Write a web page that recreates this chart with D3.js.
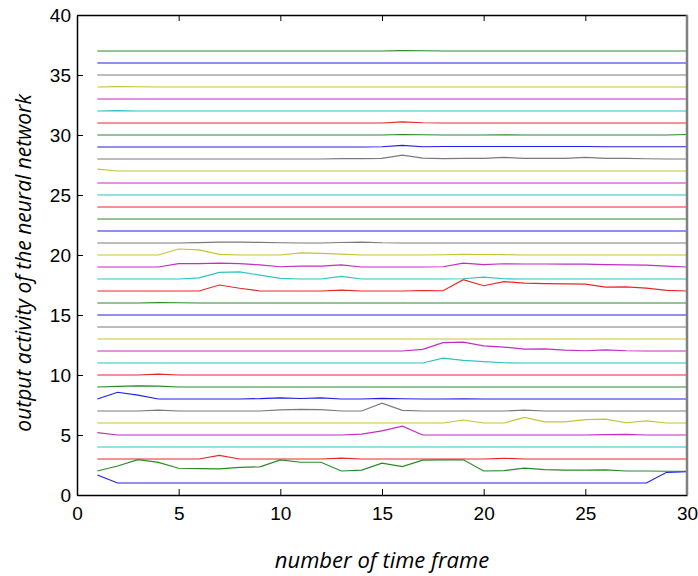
<!doctype html>
<html>
<head>
  <meta charset="utf-8">
  <script src="https://d3js.org/d3.v7.min.js"></script>
  <style>
    body { margin: 0; background: #fff; }
    .tick text { font-family: "Liberation Sans", Arial, sans-serif; font-size: 19px; fill: #000; }
    .title { font-family: "Open Sans", sans-serif; font-style: italic; font-size: 22px; fill: #000; }
  </style>
</head>
<body>
  <svg width="698" height="576"></svg>
  <script>
    // time frames 1..30
    var frames = [1,2,3,4,5,6,7,8,9,10,11,12,13,14,15,16,17,18,19,20,21,22,23,24,25,26,27,28,29,30];

    // output of each neuron, stacked by index
    var n1  = [1.67,1,1,1,1,1,1,1,1,1,1,1,1,1,1,1,1,1,1,1,1,1,1,1,1,1,1,1,1.89,1.95];
    var n2  = [2,2.42,2.95,2.72,2.23,2.2,2.18,2.3,2.35,2.92,2.73,2.73,2,2.08,2.66,2.36,2.9,2.93,2.93,2,2.03,2.24,2.12,2.08,2.08,2.1,2,2,1.98,1.98];
    var n3  = [3,3,3,3,3,3,3.3,3,3,3,3,3,3.08,3,3,3,3,3,3,3,3.06,3,3,3,3,3,3,3,3,3];
    var n4  = [4,4,4,4,4,4,4,4,4,4,4,4,4,4,4,4,4,4,4,4,4,4,4,4,4,4,4,4,4,4];
    var n5  = [5.2,5,5,5,5,5,5,5,5,5,5,5,5,5.07,5.34,5.73,5,5,5,5,5,5,5,5,5,5.03,5.06,5,5,5];
    var n6  = [6,6,6,6,6,6,6,6,6,6,6,6,6,6,6,6,6,6,6.25,6,6,6.47,6.09,6.1,6.28,6.33,6.02,6.18,6,6];
    var n7  = [7,7,7,7.08,7,7,7,7,7,7.1,7.14,7.12,7,7,7.66,7.05,7,7,7,7,7,7.07,7,7,7,7,7,7,7,7];
    var n8  = [8,8.56,8.32,8,8,8,8,8,8.03,8.1,8.04,8.1,8,8,8.05,8.02,8,8,8.02,8,8,8,8,8,8,8,8,8,8,8];
    var n9  = [9,9.05,9.1,9.07,9,9,9,9,9,9,9,9,9,9,9,9,9,9,9,9,9,9,9,9,9,9,9,9,9,9];
    var n10 = [10,10,10,10.08,10,10,10,10,10,10,10,10,10,10,10,10,10,10,10,10,10,10,10,10,10,10,10,10,10,10];
    var n11 = [11,11,11,11,11,11,11,11,11,11,11,11,11,11,11,11,11,11.4,11.22,11.12,11.02,11,11,11,11,11,11,11,11,11];
    var n12 = [12,12,12,12,12,12,12,12,12,12,12,12,12,12,12,12,12.14,12.69,12.74,12.42,12.33,12.16,12.17,12.07,12.02,12.1,12.02,12,12,12];
    var n13 = [13,13,13,13,13,13,13,13,13,13,13,13,13,13,13,13,13,13,13,13,13,13,13,13,13,13,13,13,13,13];
    var n14 = [14,14,14,14,14,14,14,14,14,14,14,14,14,14,14,14,14,14,14,14,14,14,14,14,14,14,14,14,14,14];
    var n15 = [15,15,15,15,15,15,15,15,15,15,15,15,15,15,15,15,15,15,15,15,15,15,15,15,15,15,15,15,15,15];
    var n16 = [16,16,16,16.03,16.02,16,16,16,16,16,16,16,16,16,16,16,16,16,16,16,16,16,16,16,16,16,16,16,16,16];
    var n17 = [17,17,17,17,17,17,17.5,17.23,17,17,17,17,17.08,17,17,17,17.04,17.02,17.95,17.44,17.78,17.65,17.62,17.6,17.58,17.33,17.34,17.24,17.06,17];
    var n18 = [18,18,18,18,18,18.1,18.55,18.6,18.32,18.05,18,18,18.22,18,18,18,18,18,18.02,18.15,18.02,18,18,18,18,18,18,18,18,18];
    var n19 = [19,19,19,19,19.28,19.28,19.32,19.28,19.17,19.02,19.08,19.08,19.17,19,19,19,19,19.02,19.33,19.2,19.27,19.25,19.25,19.24,19.24,19.2,19.18,19.15,19.07,19];
    var n20 = [20,20,20,20,20.5,20.42,20.06,20,20,20,20.17,20.14,20.08,20,20,20,20,20.02,20.06,20.04,20.03,20,20,20,20,20,20,20,20,20];
    var n21 = [21,21,21,21,21,21.03,21.08,21.08,21.05,21.02,21,21,21.04,21.08,21.02,21,21,21,21,21,21,21,21,21,21,21,21,21,21,21];
    var n22 = [22,22,22,22,22,22,22,22,22,22,22,22,22,22,22,22,22,22,22,22,22,22,22,22,22,22,22,22,22,22];
    var n23 = [23,23,23,23,23,23,23,23,23,23,23,23,23,23,23,23,23,23,23,23,23,23,23,23,23,23,23,23,23,23];
    var n24 = [24,24,24,24,24,24,24,24,24,24,24,24,24,24,24,24,24,24,24,24,24,24,24,24,24,24,24,24,24,24];
    var n25 = [25,25,25,25,25,25,25,25,25,25,25,25,25,25,25,25,25,25,25,25,25,25,25,25,25,25,25,25,25,25];
    var n26 = [26,26,26,26,26,26,26,26,26,26,26,26,26,26,26,26,26,26,26,26,26,26,26,26,26,26,26,26,26,26];
    var n27 = [27.15,27,27,27,27,27,27,27,27,27,27,27,27,27,27,27,27,27,27,27,27,27,27,27,27,27,27,27,27,27];
    var n28 = [28,28,28,28,28,28,28,28,28,28,28,28,28.03,28.03,28.05,28.33,28.08,28.03,28.05,28.05,28.13,28.05,28.06,28.05,28.14,28.06,28.05,28.02,28,28];
    var n29 = [29,29,29,29,29,29,29,29,29,29,29,29,29,29,29.02,29.14,29.02,29.04,29.04,29.04,29.04,29.04,29.04,29.04,29.04,29.02,29.02,29.02,29.02,29.02];
    var n30 = [30,30,30,30,30,30,30,30,30,30,30,30,30,30,30,30.04,30.02,30,30,30,30.02,30,30,30,30,30,30,30,30,30.04];
    var n31 = [31,31,31,31,31,31,31,31,31,31,31,31,31,31,31,31.1,31.02,31,31,31,31,31,31,31,31,31,31,31,31,31];
    var n32 = [32,32.03,32,32,32,32,32,32,32,32,32,32,32,32,32,32,32,32,32,32,32,32,32,32,32,32,32,32,32,32];
    var n33 = [33,33,33,33,33,33,33,33,33,33,33,33,33,33,33,33,33,33,33,33,33,33,33,33,33,33,33,33,33,33];
    var n34 = [34,34.03,34.02,34,34,34,34,34,34,34,34,34,34,34,34,34,34,34,34,34,34,34,34,34,34,34,34,34,34,34];
    var n35 = [35,35,35,35,35,35,35,35,35,35,35,35,35,35,35,35,35,35,35,35,35,35,35,35,35,35,35,35,35,35];
    var n36 = [36,36,36,36,36,36,36,36,36,36,36,36,36,36,36,36,36,36,36,36,36,36,36,36,36,36,36,36,36,36];
    var n37 = [37,37,37,37,37,37,37,37,37,37,37,37,37,37,37,37.03,37.02,37,37,37,37,37,37,37,37,37,37,37,37,37];

    var outputs = [n1,n2,n3,n4,n5,n6,n7,n8,n9,n10,n11,n12,n13,n14,n15,n16,n17,n18,n19,n20,
                   n21,n22,n23,n24,n25,n26,n27,n28,n29,n30,n31,n32,n33,n34,n35,n36,n37];

    // matlab style colour order
    var lineColors = ["#2020e8", "#2a8a2a", "#e82828", "#2cc4c4", "#c42cc4", "#c4c434", "#7a7a7a"];

    var xTicks = [0,5,10,15,20,25,30];
    var yTicks = [0,5,10,15,20,25,30,35,40];

    var plotL = 77, plotT = 15, plotR = 687, plotB = 495;

    var svg = d3.select("svg");

    var x = d3.scaleLinear().domain([0, 30]).range([plotL, plotR]);
    var y = d3.scaleLinear().domain([0, 40]).range([plotB, plotT]);

    var line = d3.line()
      .x((d, i) => x(frames[i]))
      .y(d => y(d));

    svg.append("g")
      .selectAll("path")
      .data(outputs)
      .enter()
      .append("path")
      .attr("d", line)
      .attr("fill", "none")
      .attr("stroke", (d, i) => lineColors[i % 7])
      .attr("stroke-width", 1.2);

    // axes with ticks pointing inward
    var xAxis = svg.append("g")
      .attr("transform", "translate(0," + plotB + ")")
      .call(d3.axisBottom(x).tickValues(xTicks).tickSizeInner(-6).tickSizeOuter(0).tickPadding(10));

    var yAxis = svg.append("g")
      .attr("transform", "translate(" + plotL + ",0)")
      .call(d3.axisLeft(y).tickValues(yTicks).tickSizeInner(-6).tickSizeOuter(0).tickPadding(6));

    var topAxis = svg.append("g")
      .attr("transform", "translate(0," + plotT + ")")
      .call(d3.axisTop(x).tickValues(xTicks).tickSizeInner(-6).tickSizeOuter(0).tickFormat(""));

    [xAxis, yAxis, topAxis].forEach(g => {
      g.select(".domain").attr("stroke", "#000").attr("stroke-width", 1.5);
      g.selectAll(".tick line").attr("stroke", "#000");
    });
    xAxis.selectAll(".tick text").attr("dy", "0.8em");

    // right frame edge
    svg.append("line")
      .attr("x1", plotR).attr("x2", plotR)
      .attr("y1", plotT).attr("y2", plotB)
      .attr("stroke", "#808080")
      .attr("stroke-width", 2.5);

    svg.append("text")
      .attr("class", "title")
      .attr("x", (plotL + plotR) / 2)
      .attr("y", 568)
      .attr("text-anchor", "middle")
      .text("number of time frame");

    svg.append("text")
      .attr("class", "title")
      .style("font-size", "21px")
      .attr("transform", "translate(31,263) rotate(-90)")
      .attr("text-anchor", "middle")
      .text("output activity of the neural network");
  </script>
</body>
</html>
